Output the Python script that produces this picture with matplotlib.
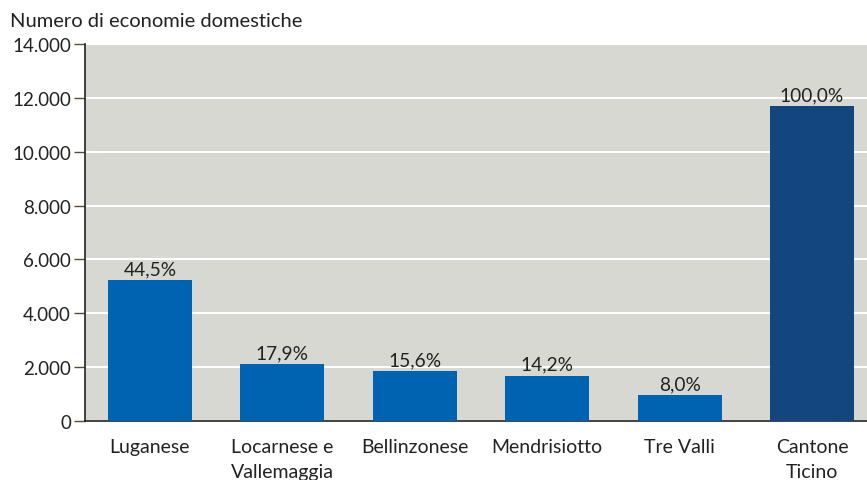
import matplotlib.pyplot as plt
from matplotlib.ticker import FuncFormatter

regions = ["Luganese", "Locarnese e\nVallemaggia", "Bellinzonese",
           "Mendrisiotto", "Tre Valli", "Cantone\nTicino"]
households = [5230, 2110, 1850, 1680, 960, 11690]
shares = ["44,5%", "17,9%", "15,6%", "14,2%", "8,0%", "100,0%"]
yticks = [0, 2000, 4000, 6000, 8000, 10000, 12000, 14000]

plt.rcParams["font.family"] = ["Lato", "DejaVu Sans"]

fig = plt.figure(figsize=(8.67, 4.81), dpi=100)
ax = fig.add_axes([0.098, 0.1227, 0.902, 0.7838])
ax.set_facecolor("#d8d8d3")

colors = ["#0063b1"] * 5 + ["#13467e"]
x = range(len(regions))
bars = ax.bar(x, households, width=0.634, color=colors, zorder=3)
for b, s in zip(bars, shares):
    ax.text(b.get_x() + b.get_width() / 2, b.get_height() + 110, s,
            ha="center", va="bottom", fontsize=13.8, color="#222222", zorder=4)

ax.set_xlim(-0.49, 5.415)
ax.set_ylim(0, 14000)
ax.set_yticks(yticks)
ax.yaxis.set_major_formatter(FuncFormatter(lambda v, p: f"{int(v):,}".replace(",", ".")))
ax.set_xticks(list(x))
ax.set_xticklabels(regions, fontsize=14, color="#222222")
for lbl in ax.get_xticklabels():
    lbl.set_linespacing(1.6)
ax.tick_params(axis="x", length=0, pad=12)
ax.tick_params(axis="y", length=8, width=1, color="#5a4a3a", labelsize=13.5,
               labelcolor="#222222", pad=2)
ax.grid(axis="y", color="white", linewidth=1.5, zorder=1)
for side in ["top", "right"]:
    ax.spines[side].set_visible(False)
for side in ["left", "bottom"]:
    ax.spines[side].set_color("#222222")
    ax.spines[side].set_linewidth(1.2)

fig.text(0.012, 0.955, "Numero di economie domestiche", fontsize=14.5,
         color="#222222", va="center", ha="left")

fig.savefig("out.png", dpi=100)
